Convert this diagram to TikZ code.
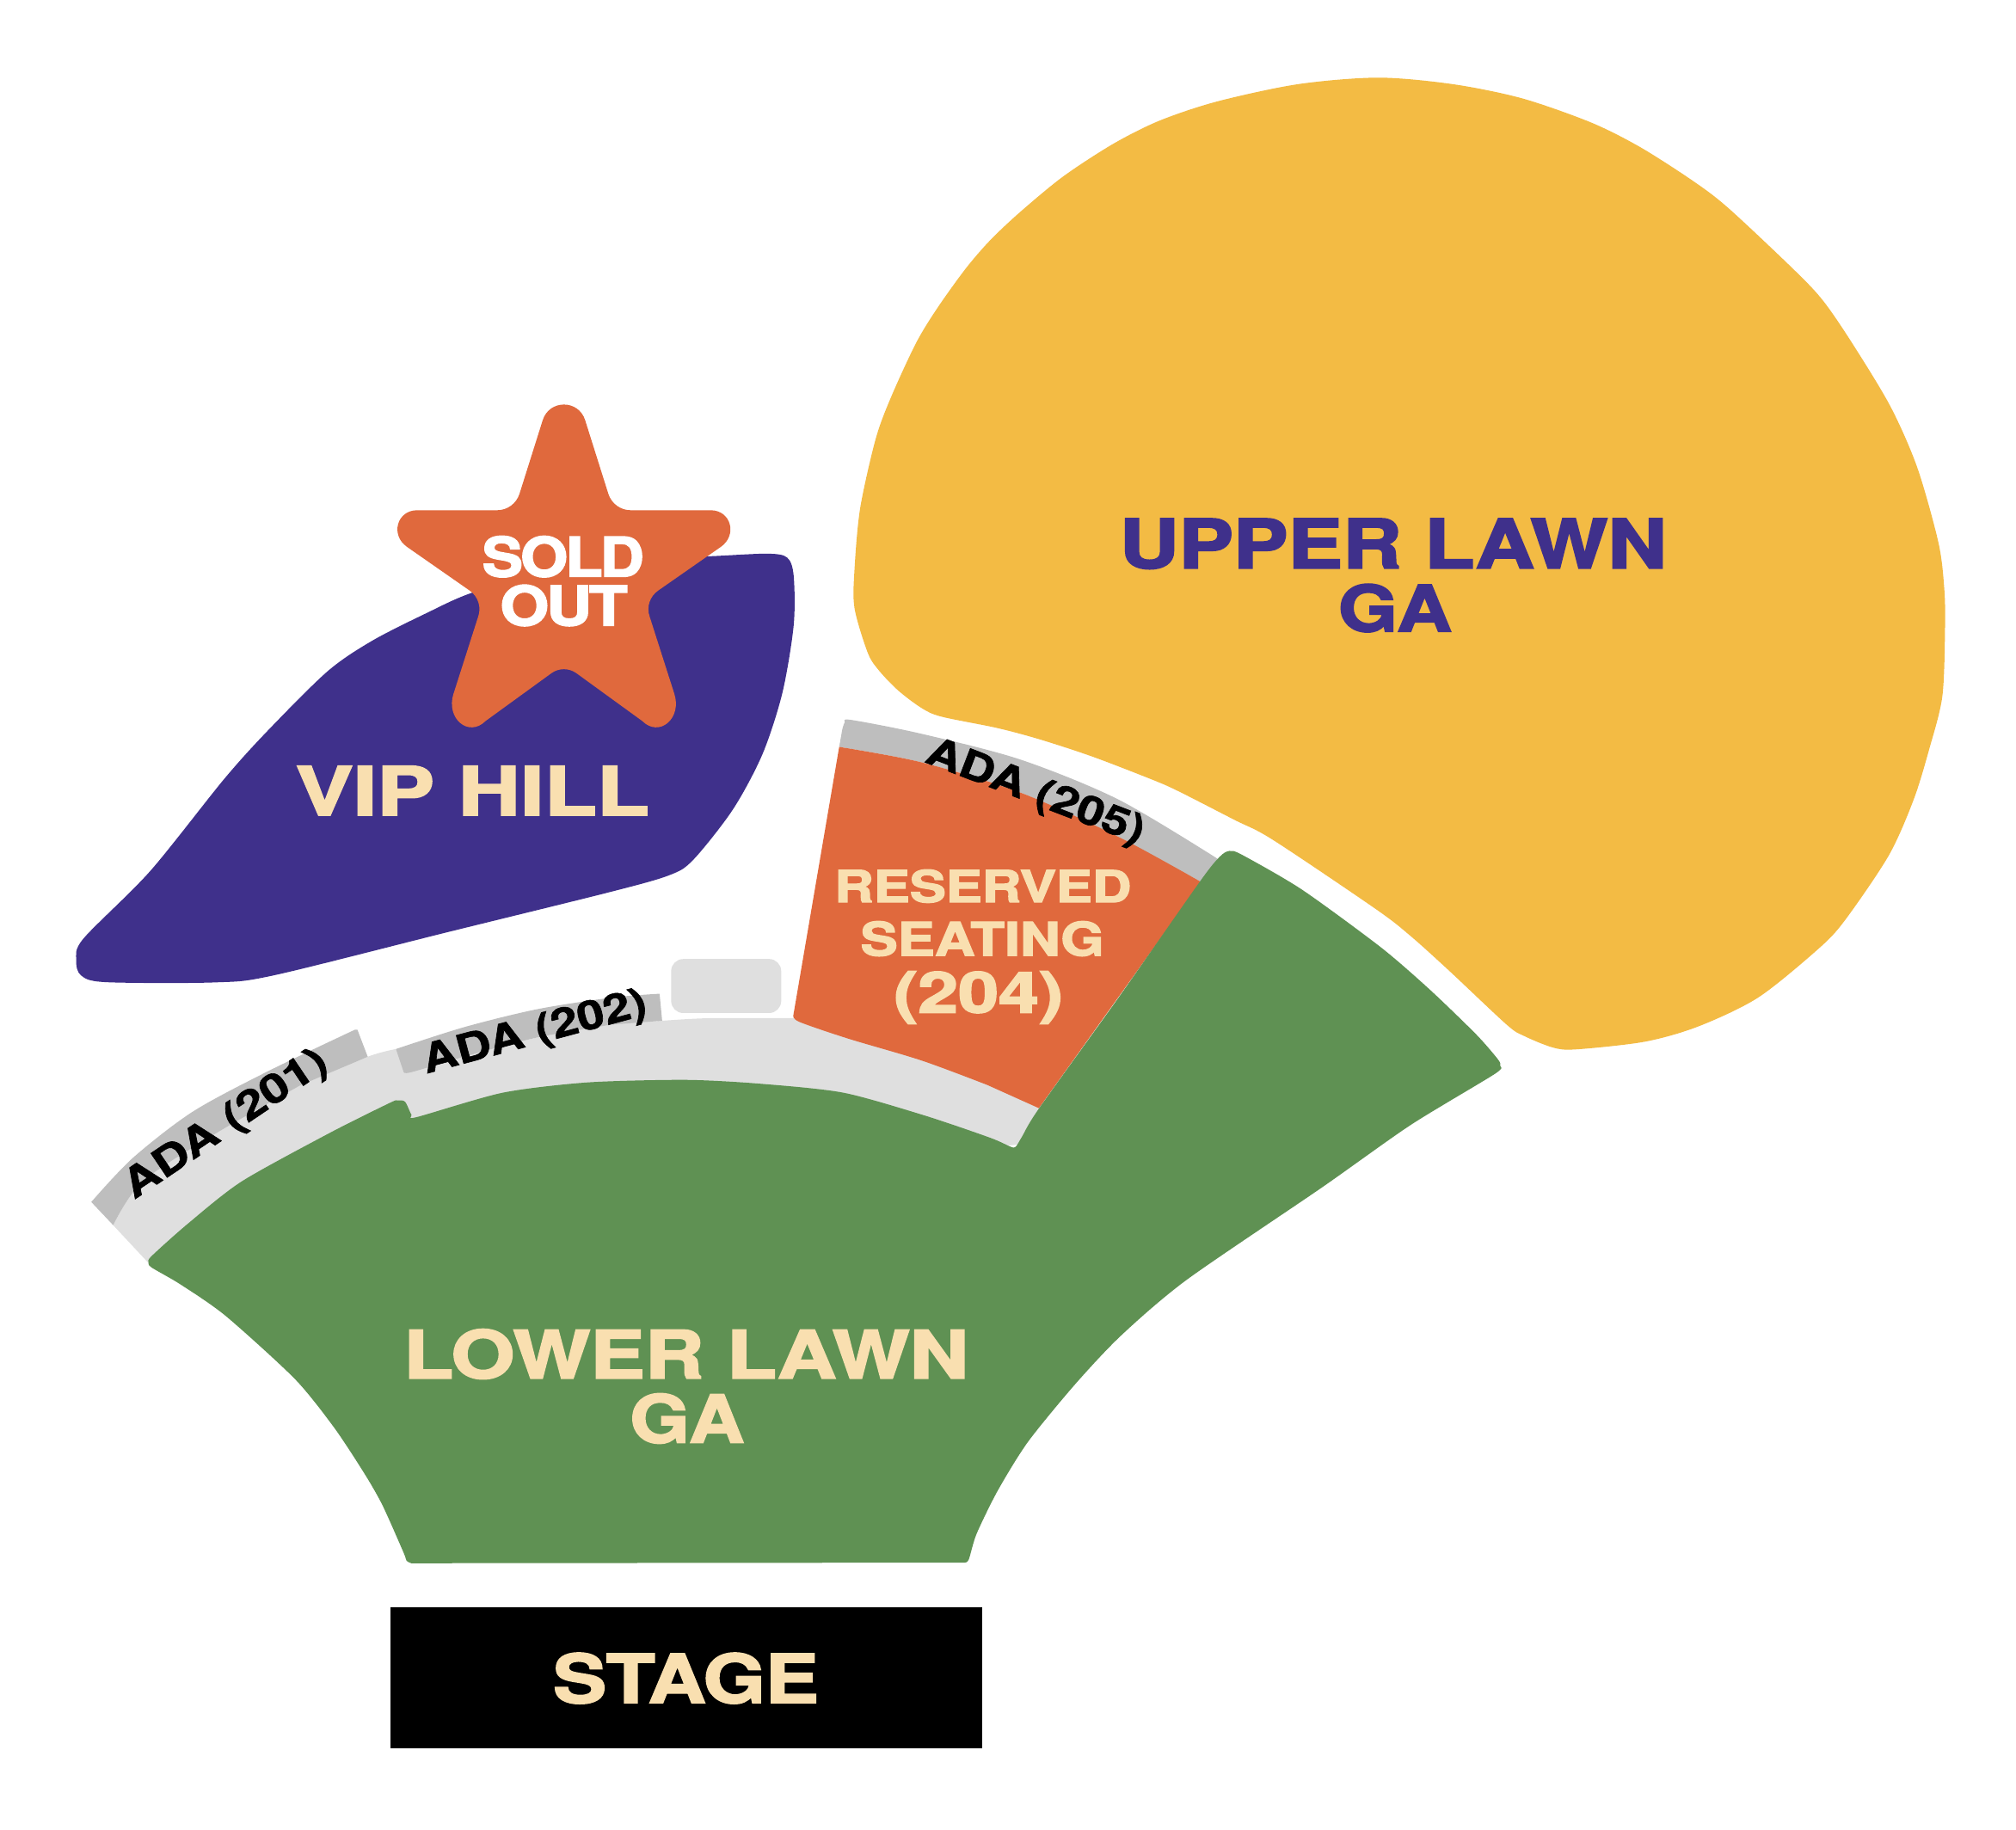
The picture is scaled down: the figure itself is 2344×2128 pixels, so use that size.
\documentclass[tikz,border=0pt]{standalone}
\usepackage{graphicx}
\usepackage{fontspec}
\newfontfamily\heavy[BoldFeatures={FakeBold=2.4}]{TeX Gyre Heros}
\newfontfamily\tight[BoldFeatures={FakeBold=2.6,LetterSpace=-4}]{TeX Gyre Heros}
\newfontfamily\medium[BoldFeatures={FakeBold=1.2}]{TeX Gyre Heros}
\definecolor{cpurple}{HTML}{3F308B}
\definecolor{cyellow}{HTML}{F3BB44}
\definecolor{cgreen}{HTML}{5F9153}
\definecolor{corange}{HTML}{E0693D}
\definecolor{clight}{HTML}{DFDFDF}
\definecolor{cdark}{HTML}{BEBEBE}
\definecolor{ccream}{HTML}{F9DFB0}
\newcommand{\lbl}[3]{\resizebox{#1\dimexpr0.01cm\relax}{#2\dimexpr0.01cm\relax}{\fontsize{20}{20}\selectfont\heavy\bfseries #3}}
\newcommand{\tightlbl}[3]{\resizebox{#1\dimexpr0.01cm\relax}{#2\dimexpr0.01cm\relax}{\fontsize{20}{20}\selectfont\tight\bfseries #3}}
\newcommand{\adalbl}[3]{\resizebox{#1\dimexpr0.01cm\relax}{#2\dimexpr0.01cm\relax}{\fontsize{20}{20}\selectfont\medium\bfseries #3}}
\tikzset{
  lab/.style={inner sep=0pt,outer sep=0pt,anchor=center},
  region/.style={draw=none}
}
\begin{document}
\begin{tikzpicture}[x=0.01cm,y=-0.01cm]
\useasboundingbox (0,0) rectangle (2344,2128);
\begin{scope}[scale=1.4949]
% upper lawn
\fill[cyellow] plot[smooth cycle,tension=0.5] coordinates {(664.6,473)(664.6,443.2)(669,395.4)(681,341.7)(693,309)(712.4,267)(728.8,240)(751.2,208.8)(770.6,186.4)(794.5,164)(827.3,137)(866,111.8)(902,93.8)(946.8,78.9)(1009.5,65.5)(1072,60.4)(1130,65.5)(1183.8,76.5)(1237.5,95.3)(1276.3,114.8)(1318,141.6)(1345,162.5)(1395.8,210.3)(1418,234)(1440.6,267)(1470.4,316.3)(1491.3,364)(1507.7,422.3)(1512.2,458)(1512.8,488)(1510.7,541.6)(1500.3,583.4)(1488.3,622.2)(1469,665.5)(1434.6,716.3)(1413.7,738.6)(1367.4,776)(1321,798.4)(1279.3,810.3)(1225.6,816.3)(1207.7,814.8)(1185.3,805.8)(1171.8,797)(1127,755)(1097,728)(1070.3,707.3)(990,653.3)(960,637.7)(916.4,615.4)(896,606.4)(849.8,588.6)(808.9,575.2)(775.6,566.3)(732,557.4)(716.7,550.7)(698.8,537.3)(684,522)(675,508)};
% VIP hill
\fill[cpurple] plot[smooth cycle,tension=0.5] coordinates {(59.3,746.8)(65,730)(116.9,677.5)(174.5,605.8)(209,567.6)(255,522)(289.7,498.3)(332,476.8)(366.5,461.3)(430,442)(500,435)(554.7,432.6)(597,430.7)(612.3,433.8)(617.3,448)(617.3,486.4)(608.5,539)(593,586.7)(570,629.7)(539,669)(520,681)(474,694)(347.3,725.3)(212.9,758.7)(166.8,764.2)(82.3,764)(63,758.7)};
% light band
\fill[clight] plot[smooth] coordinates {(88,953)(111,919)(169,881)(234,844)(286,822)(308,816)} -- (318,834) -- plot[smooth] coordinates {(361,822)(418,807)(476,797)(515,794)(553,792)(618,792)} -- (640,795) -- (800,850) -- (815,860) -- (795,890) -- (700,900) -- (200,950) -- (116,983) -- cycle;
% dark ADA bands
\fill[cdark] plot[smooth] coordinates {(71,935)(103,901)(149.5,865)(207,834)(276,801)} -- (278,801) -- (286,822) -- plot[smooth] coordinates {(234,844)(169,881)(111,919)(88,953)} -- cycle;
\fill[cdark] plot[smooth] coordinates {(308,816)(361,799)(418,785)(476,776)(513,773)} -- (515,794) -- plot[smooth] coordinates {(476,797)(418,807)(361,822)(320,834)(314,834)} -- cycle;
\fill[cdark] plot[smooth] coordinates {(655,568)(657,562)(662,560)(716.7,570.8)(793.5,590.8)(870,622)(947,668)} -- (934,686) -- plot[smooth] coordinates {(870,651)(793.5,616.5)(716.7,593)(652.7,581)} -- cycle;
% grey square
\fill[clight,rounded corners=4] (522,746) rectangle (607.6,788);
% orange
\fill[corange] plot[smooth] coordinates {(652.7,581)(716.7,593)(793.5,616.5)(870,651)(934,686)} -- (808,862) -- plot[smooth] coordinates {(768,844)(717,825)(660,808)(622,795)(617,790)} -- cycle;
% green
\fill[cgreen] plot[smooth,tension=0.45] coordinates {(320,1216)(316.2,1214)(313.8,1207.5)(297.4,1170.7)(283.3,1146)(259.9,1110.5)(229.3,1072.6)(175.4,1023.5)(140.2,999)(118,986)(115.5,982)(118,977)(146,952)(188,919)(257,881)(303,858)(309,856)(315,857)(320,867)(324,869)(391,850)(457,842)(533,840)(591,843)(656,850)(720,868)(770,885)(786,892)(790,892)(795,884)(808,862.4)(870,776)(933.3,685.7)(948.6,666.5)(956.3,661.9)(966.5,665.2)(1012.6,692)(1074,736.9)(1112.5,770.2)(1148.3,804.8)(1165,824)(1166.8,829)(1162.4,835.5)(1097,875.2)(1028,923.8)(923,995.5)(871.8,1039)(836,1077)(799.5,1121.6)(776,1159.5)(759.6,1193)(753.5,1213)(750.2,1215.5)} -- cycle;
% stage
\fill[black] (304,1250) rectangle (764,1360);
\end{scope}
% star
\begin{scope}[shift={(430,450)},scale=1/3]
\fill[corange] (751,116) -- (832,373) .. controls (843,407) and (874,430) .. (910,430)
 -- (1189,430) .. controls (1259,430) and (1284,516) .. (1224,558)
 -- (1006,710) .. controls (977,730) and (964,767) .. (976,801)
 -- (1062,1070) .. controls (1090,1155) and (1010,1225) .. (950,1165)
 -- (720,998) .. controls (695,980) and (659,980) .. (634,998)
 -- (404,1165) .. controls (344,1225) and (264,1155) .. (292,1070)
 -- (378,801) .. controls (390,767) and (377,730) .. (348,710)
 -- (130,558) .. controls (70,516) and (95,430) .. (165,430)
 -- (444,430) .. controls (480,430) and (511,407) .. (522,373)
 -- (603,116) .. controls (626,43) and (728,43) .. (751,116) -- cycle;
\end{scope}
% labels
\begin{scope}[scale=1.4949]
\node[lab,text=cpurple] (upper) at (1083.6,423) {\lbl{636}{57.5}{UPPER LAWN}};
\node[lab,text=cpurple] (upperga) at (1085,473) {\lbl{132}{55}{GA}};
\node[lab,text=ccream] (lower) at (533.6,1053.3) {\lbl{657}{57}{LOWER LAWN}};
\node[lab,text=ccream] (lowerga) at (534.4,1103.4) {\lbl{133}{57}{GA}};
\node[lab,text=ccream] (vip) at (367.5,615) {\lbl{411}{57}{VIP HILL}};
\node[lab,text=ccream] (stage) at (533.5,1305.5) {\lbl{309}{58}{STAGE}};
\node[lab,text=ccream] (res) at (764.5,689.3) {\lbl{345}{38}{RESERVED}};
\node[lab,text=ccream] (seat) at (764,730.2) {\lbl{283}{40}{SEATING}};
\node[lab,text=ccream] (num) at (761,776) {\lbl{197}{48}{(204)}};
\node[lab,text=white] (sold) at (438,433) {\tightlbl{188}{47}{SOLD}};
\node[lab,text=white] (out) at (438.5,471) {\tightlbl{148}{47}{OUT}};
\node[lab,text=black,rotate=34] (a201) at (176,875) {\adalbl{275}{34}{ADA (201)}};
\node[lab,text=black,rotate=15] (a202) at (416,804) {\adalbl{268}{34}{ADA (202)}};
\node[lab,text=black,rotate=-21] (a205) at (805,617) {\adalbl{268}{34}{ADA (205)}};
\end{scope}
\end{tikzpicture}
\end{document}
